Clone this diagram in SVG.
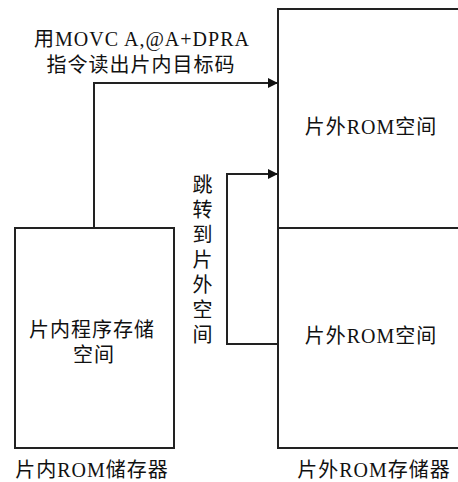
<svg xmlns="http://www.w3.org/2000/svg" width="458" height="482" viewBox="0 0 458 482">
<style>
.box{fill:none;stroke:#222;stroke-width:2}
.ln{fill:none;stroke:#222;stroke-width:2}
text{font-family:"Liberation Serif","Noto Sans CJK SC",serif;font-size:20px;fill:#111;text-anchor:middle;letter-spacing:1px}
</style>
<defs>
<marker id="ah" markerWidth="10" markerHeight="10" refX="9" refY="5" orient="auto" markerUnits="userSpaceOnUse">
<path d="M0,0 L10,5 L0,10 Z" fill="#111"/>
</marker>
</defs>
<rect width="458" height="482" fill="#fff"/>
<g id="onchip">
<rect class="box" x="15" y="228" width="159" height="220"/>
<text x="92" y="337">片内程序存储</text>
<text x="94" y="362">空间</text>
<text x="92" y="477">片内ROM储存器</text>
</g>
<g id="offchip-top">
<path class="box" d="M458,9 H278 V228 H458"/>
<text x="371" y="134">片外ROM空间</text>
</g>
<g id="offchip-bottom">
<path class="box" d="M458,228 H278 V448 H458"/>
<text x="371" y="343">片外ROM空间</text>
<text x="374" y="477">片外ROM存储器</text>
</g>
<g id="connectors">
<path class="ln" d="M94,228 V83 H277" marker-end="url(#ah)"/>
<path class="ln" d="M278,344 H227 V174 H277" marker-end="url(#ah)"/>
</g>
<g id="labels">
<text x="142" y="46">用MOVC A,@A+DPRA</text>
<text x="141" y="72">指令读出片内目标码</text>
<text x="203" y="192">跳</text>
<text x="203" y="217">转</text>
<text x="203" y="242">到</text>
<text x="203" y="267">片</text>
<text x="203" y="292">外</text>
<text x="203" y="317">空</text>
<text x="203" y="342">间</text>
</g>
</svg>
